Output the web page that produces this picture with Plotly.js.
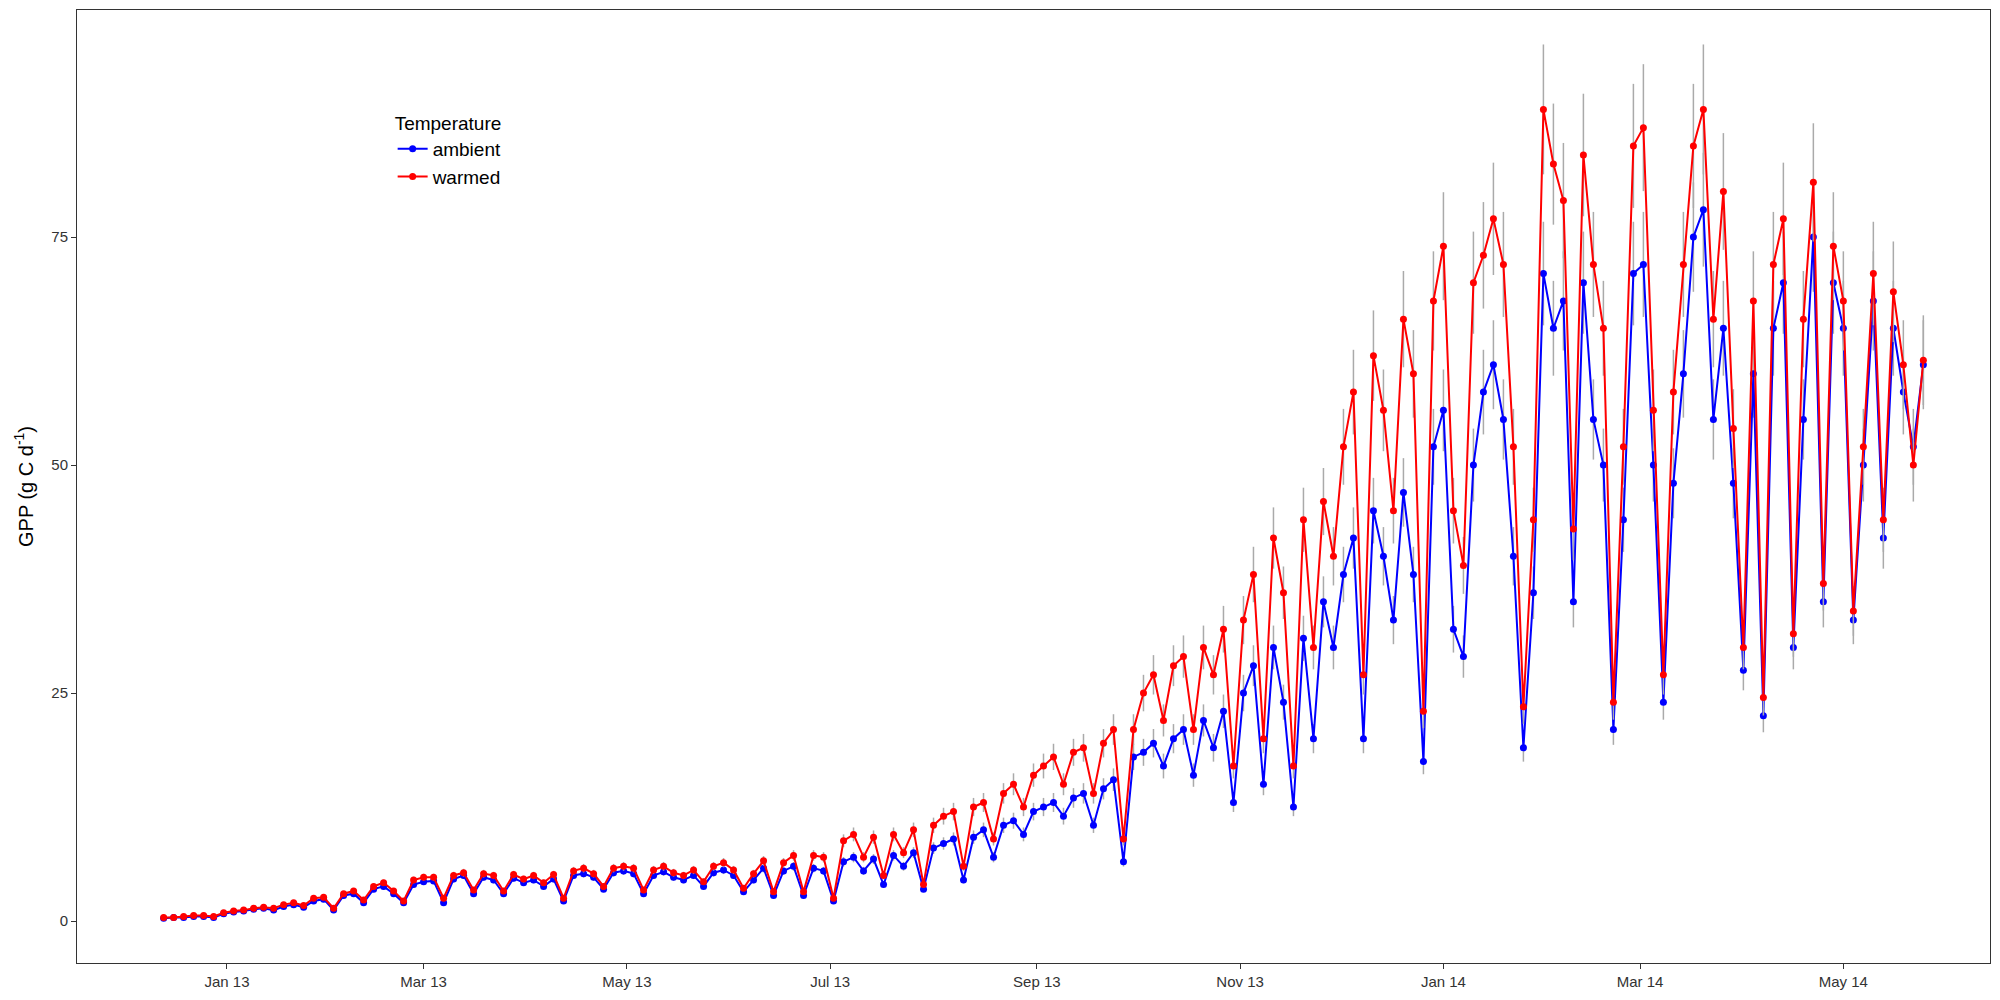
<!DOCTYPE html>
<html>
<head>
<meta charset="utf-8">
<script src="https://cdn.plot.ly/plotly-3.0.1.min.js"></script>
<style>body{margin:0;background:#fff}</style>
</head>
<body>
<div id="chart" style="width:2000px;height:1000px"></div>
<script>
// one value every 3 days starting 2012-12-13
var startDate = "2012-12-13";
var stepDays = 3;

var ambient = [
  0.3,0.4,0.4,0.5,0.5,0.4,0.8,
  1.0,1.1,1.3,1.4,1.2,1.6,1.8,1.5,2.2,2.4,
  1.2,2.8,3.0,2.0,3.5,3.8,3.0,2.0,4.0,4.3,
  4.4,2.0,4.6,5.0,3.0,4.8,4.5,3.0,4.7,4.2,
  4.5,3.8,4.6,2.2,5.0,5.2,4.8,3.5,5.3,5.5,
  5.2,3.0,5.0,5.4,4.8,4.5,5.0,3.8,5.3,5.6,
  5.0,3.2,4.5,5.8,2.8,5.5,6.0,2.8,5.8,5.5,
  2.2,6.5,7.0,5.5,6.8,4.0,7.2,6.0,7.5,3.5,
  8.0,8.5,9.0,4.5,9.2,10.0,7.0,10.5,11.0,9.5,
  12.0,12.5,13.0,11.5,13.5,14.0,10.5,14.5,15.5,6.5,
  18.0,18.5,19.5,17.0,20.0,21.0,16.0,22.0,19.0,23.0,
  13.0,25.0,28.0,15.0,30.0,24.0,12.5,31.0,20.0,35.0,
  30.0,38.0,42.0,20.0,45.0,40.0,33.0,47.0,38.0,17.5,
  52.0,56.0,32.0,29.0,50.0,58.0,61.0,55.0,40.0,19.0,
  36.0,71.0,65.0,68.0,35.0,70.0,55.0,50.0,21.0,44.0,
  71.0,72.0,50.0,24.0,48.0,60.0,75.0,78.0,55.0,65.0,
  48.0,27.5,60.0,22.5,65.0,70.0,30.0,55.0,75.0,35.0,
  70.0,65.0,33.0,50.0,68.0,42.0,65.0,58.0,52.0,61.0
];
var warmed = [
  0.4,0.4,0.5,0.6,0.6,0.5,0.9,
  1.1,1.2,1.4,1.5,1.4,1.8,2.0,1.7,2.5,2.6,
  1.4,3.0,3.3,2.3,3.8,4.2,3.3,2.2,4.5,4.8,
  4.8,2.5,5.0,5.3,3.4,5.2,5.0,3.3,5.1,4.6,
  5.0,4.2,5.1,2.5,5.5,5.8,5.2,3.8,5.8,6.0,
  5.8,3.4,5.6,6.0,5.3,5.0,5.6,4.3,6.0,6.4,
  5.6,3.6,5.2,6.6,3.2,6.4,7.2,3.2,7.2,7.0,
  2.5,8.8,9.5,7.0,9.2,5.0,9.5,7.5,10.0,4.0,
  10.5,11.5,12.0,6.0,12.5,13.0,9.0,14.0,15.0,12.5,
  16.0,17.0,18.0,15.0,18.5,19.0,14.0,19.5,21.0,9.0,
  21.0,25.0,27.0,22.0,28.0,29.0,21.0,30.0,27.0,32.0,
  17.0,33.0,38.0,20.0,42.0,36.0,17.0,44.0,30.0,46.0,
  40.0,52.0,58.0,27.0,62.0,56.0,45.0,66.0,60.0,23.0,
  68.0,74.0,45.0,39.0,70.0,73.0,77.0,72.0,52.0,23.5,
  44.0,89.0,83.0,79.0,43.0,84.0,72.0,65.0,24.0,52.0,
  85.0,87.0,56.0,27.0,58.0,72.0,85.0,89.0,66.0,80.0,
  54.0,30.0,68.0,24.5,72.0,77.0,31.5,66.0,81.0,37.0,
  74.0,68.0,34.0,52.0,71.0,44.0,69.0,61.0,50.0,61.5
];

var dates = ambient.map(function(v, i){
    var d = new Date(startDate + "T00:00:00Z");
    d.setUTCDate(d.getUTCDate() + i * stepDays);
    return d.toISOString().slice(0, 10);
});

function series(name, y, color){
    return {
        x: dates, y: y, name: name, type: "scatter", mode: "lines+markers",
        line: {color: color, width: 2},
        marker: {color: color, size: 7},
        error_y: {type: "percent", value: 8, color: "#aaaaaa", thickness: 1.5, width: 0}
    };
}

var data = [series("ambient", ambient, "#0000ff"), series("warmed", warmed, "#ff0000")];

var layout = {
    margin: {l: 77, r: 10, t: 10, b: 37},
    paper_bgcolor: "#fff", plot_bgcolor: "#fff",
    font: {family: "Liberation Sans, Arial", size: 15, color: "#333"},
    xaxis: {
        type: "date", range: ["2012-11-17", "2014-06-14"],
        tickvals: ["2013-01-01","2013-03-01","2013-05-01","2013-07-01","2013-09-01","2013-11-01","2014-01-01","2014-03-01","2014-05-01"],
        ticktext: ["Jan 13","Mar 13","May 13","Jul 13","Sep 13","Nov 13","Jan 14","Mar 14","May 14"],
        ticks: "outside", ticklen: 5, tickcolor: "#333", showgrid: false, zeroline: false,
        showline: true, mirror: true, linecolor: "#333", linewidth: 1
    },
    yaxis: {
        range: [-4.6, 99.9], tickvals: [0, 25, 50, 75],
        ticks: "outside", ticklen: 5, tickcolor: "#333", showgrid: false, zeroline: false,
        showline: true, mirror: true, linecolor: "#333", linewidth: 1,
        title: {text: "GPP (g C d<sup>-1</sup>)", font: {size: 20, color: "#000"}, standoff: 12}
    },
    legend: {
        x: 0.165, y: 0.9, xanchor: "left", yanchor: "top",
        title: {text: "Temperature", font: {size: 19, color: "#000"}},
        font: {size: 19, color: "#000"}, bgcolor: "rgba(0,0,0,0)", tracegroupgap: 0
    },
    showlegend: true
};

Plotly.newPlot("chart", data, layout, {displayModeBar: false});
</script>
</body>
</html>
